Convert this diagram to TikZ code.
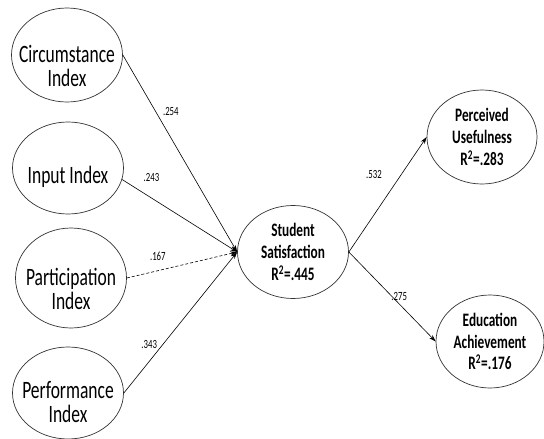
\documentclass[tikz,border=0pt]{standalone}
\usepackage{fontspec}
\setmainfont[FakeStretch=0.70]{Carlito}
\usetikzlibrary{shapes.geometric}
\usetikzlibrary{arrows.meta}

\begin{document}
\begin{tikzpicture}[x=1pt,y=-1pt,
  construct/.style={ellipse,draw=black!80,line width=0.7pt,inner sep=-20pt,
    minimum width=111pt,minimum height=94pt,align=center},
  index/.style={construct,font=\fontsize{25}{24}\selectfont,
    execute at begin node={\rule{0pt}{#1}}},
  index/.default=64pt,
  outcome/.style={construct,font=\bfseries\fontsize{19}{21.7}\selectfont},
  coef/.style={font=\fontsize{12.5}{12.5}\selectfont,inner sep=1pt}]
\useasboundingbox (0,0) rectangle (544,439);
\node[index] (ci) at (67,55) {Circumstance\\Index};
\node[index=35pt,minimum height=92pt] (ii) at (68,168) {Input Index};
\node[index,minimum height=100pt] (pi) at (71,278) {Participation\\Index};
\node[index=60pt,minimum height=92pt] (fi) at (68,393) {Performance\\Index};
\node[outcome,minimum height=93pt] (ss) at (293,252) {Student\\Satisfaction\\R\textsuperscript{2}=.445};
\node[outcome,minimum width=110pt] (pu) at (482,137) {Perceived\\Usefulness\\R\textsuperscript{2}=.283};
\node[outcome,minimum width=108pt,minimum height=93pt] (ea) at (490,341.5) {Education\\Achievement\\R\textsuperscript{2}=.176};
  \path[-{Stealth[length=7pt,width=4.5pt]},line width=0.6pt]
    (ci.east) edge node [coef,pos=0.288,right=6pt] {.254} (ss.west)
    (ii.-12) edge node [coef,pos=0.255,above=15pt] {.243} (ss.west)
    (pi.east) edge [densely dashed] node [coef,pos=0.281,above=8.5pt] {.167} (ss.west)
    (fi.east) edge node [coef,pos=0.345,left=4.7pt] {.343} (ss.west)
    (ss.east) edge node [coef,pos=0.671,left=18pt] {.532} (pu.west)
              edge node [coef,pos=0.58,above=1.7pt] {.275} (ea.west);
\end{tikzpicture}
\end{document}
